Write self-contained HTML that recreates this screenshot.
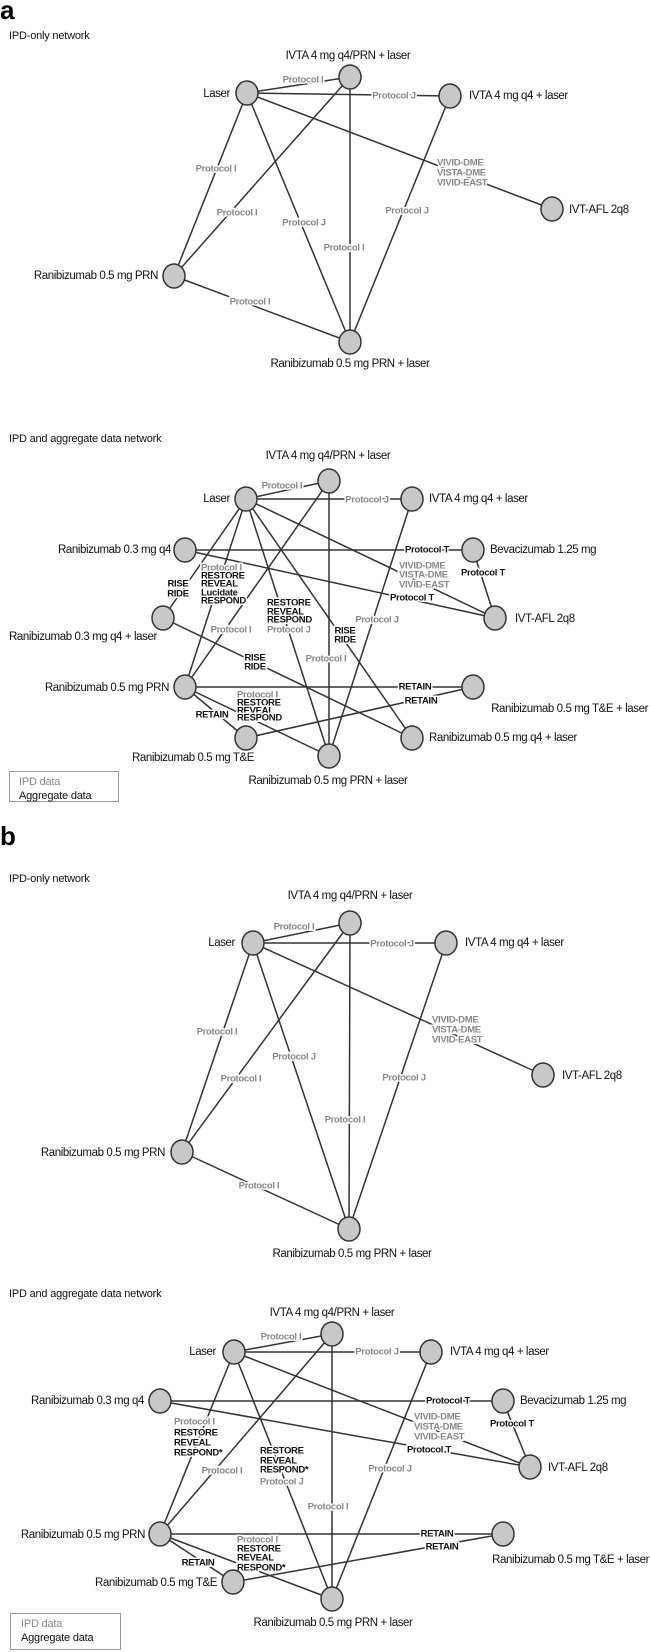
<!DOCTYPE html>
<html><head><meta charset="utf-8"><style>
html,body{margin:0;padding:0;background:#fff;}
svg{display:block;}
text{font-family:"Liberation Sans",sans-serif;dominant-baseline:central;}
.n{font-size:11.5px;fill:#111;letter-spacing:-0.4px;}
.g{font-size:9.5px;fill:#888;font-weight:bold;letter-spacing:-0.3px;paint-order:stroke;stroke:#fff;stroke-width:3px;}
.k{font-size:9.5px;fill:#111;font-weight:bold;letter-spacing:-0.3px;paint-order:stroke;stroke:#fff;stroke-width:3px;}
.t{font-size:11px;fill:#111;letter-spacing:-0.2px;}
line{stroke:#333;stroke-width:1.5;}
ellipse{fill:#c8c8c8;stroke:#333;stroke-width:1.5;}
</style></head><body>
<svg width="650" height="1652" viewBox="0 0 650 1652" xmlns="http://www.w3.org/2000/svg">
<!-- ===== Panel a, IPD only ===== -->
<text x="0" y="10" style="font-size:26px;font-weight:bold;fill:#000">a</text>
<text class="t" x="9" y="36">IPD-only network</text>
<g>
<line x1="247" y1="93" x2="350" y2="77"/>
<line x1="247" y1="93" x2="450" y2="96"/>
<line x1="247" y1="93" x2="552" y2="209"/>
<line x1="247" y1="93" x2="174" y2="276"/>
<line x1="350" y1="77" x2="174" y2="276"/>
<line x1="247" y1="93" x2="350" y2="342"/>
<line x1="350" y1="77" x2="350" y2="342"/>
<line x1="450" y1="96" x2="350" y2="342"/>
<line x1="174" y1="276" x2="350" y2="342"/>
</g>
<text class="g" x="303" y="80" text-anchor="middle">Protocol I</text>
<text class="g" x="394" y="96" text-anchor="middle">Protocol J</text>
<text class="g" x="437" y="163">VIVID-DME</text>
<text class="g" x="437" y="173">VISTA-DME</text>
<text class="g" x="437" y="183">VIVID-EAST</text>
<text class="g" x="216" y="169" text-anchor="middle">Protocol I</text>
<text class="g" x="237" y="213" text-anchor="middle">Protocol I</text>
<text class="g" x="304" y="223" text-anchor="middle">Protocol J</text>
<text class="g" x="344" y="248" text-anchor="middle">Protocol I</text>
<text class="g" x="407" y="211" text-anchor="middle">Protocol J</text>
<text class="g" x="250" y="302" text-anchor="middle">Protocol I</text>
<ellipse cx="247" cy="93" rx="11" ry="12"/>
<ellipse cx="350" cy="77" rx="11" ry="12"/>
<ellipse cx="450" cy="96" rx="11" ry="12"/>
<ellipse cx="552" cy="209" rx="11" ry="12"/>
<ellipse cx="174" cy="276" rx="11" ry="12"/>
<ellipse cx="350" cy="342" rx="11" ry="12"/>
<text class="n" x="348" y="56" text-anchor="middle">IVTA 4 mg q4/PRN + laser</text>
<text class="n" x="230" y="94" text-anchor="end">Laser</text>
<text class="n" x="469" y="96">IVTA 4 mg q4 + laser</text>
<text class="n" x="569" y="210">IVT-AFL 2q8</text>
<text class="n" x="158" y="276" text-anchor="end">Ranibizumab 0.5 mg PRN</text>
<text class="n" x="350" y="364" text-anchor="middle">Ranibizumab 0.5 mg PRN + laser</text>

<!-- ===== Panel a, IPD + aggregate ===== -->
<text class="t" x="9" y="439">IPD and aggregate data network</text>
<g>
<line x1="246" y1="499" x2="329" y2="481"/>
<line x1="246" y1="499" x2="412" y2="499"/>
<line x1="246" y1="499" x2="495" y2="618"/>
<line x1="185" y1="550" x2="473" y2="550"/>
<line x1="473" y1="550" x2="495" y2="618"/>
<line x1="185" y1="550" x2="495" y2="618"/>
<line x1="246" y1="499" x2="163" y2="618"/>
<line x1="246" y1="499" x2="185" y2="687"/>
<line x1="329" y1="481" x2="185" y2="687"/>
<line x1="246" y1="499" x2="329" y2="756"/>
<line x1="246" y1="499" x2="412" y2="738"/>
<line x1="163" y1="618" x2="412" y2="738"/>
<line x1="329" y1="481" x2="329" y2="756"/>
<line x1="412" y1="499" x2="329" y2="756"/>
<line x1="185" y1="687" x2="473" y2="687"/>
<line x1="246" y1="738" x2="473" y2="687"/>
<line x1="185" y1="687" x2="246" y2="738"/>
<line x1="185" y1="687" x2="329" y2="756"/>
</g>
<text class="g" x="282" y="486" text-anchor="middle">Protocol I</text>
<text class="g" x="367" y="500" text-anchor="middle">Protocol J</text>
<text class="g" x="399" y="566">VIVID-DME</text>
<text class="g" x="399" y="575">VISTA-DME</text>
<text class="g" x="399" y="585">VIVID-EAST</text>
<text class="k" x="427" y="550" text-anchor="middle">Protocol T</text>
<text class="k" x="483" y="573" text-anchor="middle">Protocol T</text>
<text class="k" x="412" y="598" text-anchor="middle">Protocol T</text>
<text class="k" x="178" y="584" text-anchor="middle">RISE</text>
<text class="k" x="178" y="594" text-anchor="middle">RIDE</text>
<text class="g" x="201" y="568">Protocol I</text>
<text class="k" x="201" y="576">RESTORE</text>
<text class="k" x="201" y="584">REVEAL</text>
<text class="k" x="201" y="593">Lucidate</text>
<text class="k" x="201" y="601">RESPOND</text>
<text class="g" x="231" y="630" text-anchor="middle">Protocol I</text>
<text class="k" x="267" y="603">RESTORE</text>
<text class="k" x="267" y="612">REVEAL</text>
<text class="k" x="267" y="620">RESPOND</text>
<text class="g" x="267" y="630">Protocol J</text>
<text class="k" x="345" y="631" text-anchor="middle">RISE</text>
<text class="k" x="345" y="640" text-anchor="middle">RIDE</text>
<text class="k" x="255" y="658" text-anchor="middle">RISE</text>
<text class="k" x="255" y="667" text-anchor="middle">RIDE</text>
<text class="g" x="326" y="659" text-anchor="middle">Protocol I</text>
<text class="g" x="377" y="620" text-anchor="middle">Protocol J</text>
<text class="k" x="415" y="687" text-anchor="middle">RETAIN</text>
<text class="k" x="421" y="701" text-anchor="middle">RETAIN</text>
<text class="k" x="212" y="715" text-anchor="middle">RETAIN</text>
<text class="g" x="237" y="695">Protocol I</text>
<text class="k" x="237" y="703">RESTORE</text>
<text class="k" x="237" y="711">REVEAL</text>
<text class="k" x="237" y="718">RESPOND</text>
<ellipse cx="246" cy="499" rx="11" ry="12"/>
<ellipse cx="329" cy="481" rx="11" ry="12"/>
<ellipse cx="412" cy="499" rx="11" ry="12"/>
<ellipse cx="185" cy="550" rx="11" ry="12"/>
<ellipse cx="473" cy="550" rx="11" ry="12"/>
<ellipse cx="495" cy="618" rx="11" ry="12"/>
<ellipse cx="163" cy="618" rx="11" ry="12"/>
<ellipse cx="185" cy="687" rx="11" ry="12"/>
<ellipse cx="473" cy="687" rx="11" ry="12"/>
<ellipse cx="412" cy="738" rx="11" ry="12"/>
<ellipse cx="246" cy="738" rx="11" ry="12"/>
<ellipse cx="329" cy="756" rx="11" ry="12"/>
<text class="n" x="328" y="456" text-anchor="middle">IVTA 4 mg q4/PRN + laser</text>
<text class="n" x="230" y="499" text-anchor="end">Laser</text>
<text class="n" x="429" y="499">IVTA 4 mg q4 + laser</text>
<text class="n" x="171" y="550" text-anchor="end">Ranibizumab 0.3 mg q4</text>
<text class="n" x="490" y="550">Bevacizumab 1.25 mg</text>
<text class="n" x="515" y="619">IVT-AFL 2q8</text>
<text class="n" x="9" y="637">Ranibizumab 0.3 mg q4 + laser</text>
<text class="n" x="169" y="688" text-anchor="end">Ranibizumab 0.5 mg PRN</text>
<text class="n" x="648" y="709" text-anchor="end">Ranibizumab 0.5 mg T&amp;E + laser</text>
<text class="n" x="429" y="738">Ranibizumab 0.5 mg q4 + laser</text>
<text class="n" x="254" y="758" text-anchor="end">Ranibizumab 0.5 mg T&amp;E</text>
<text class="n" x="328" y="781" text-anchor="middle">Ranibizumab 0.5 mg PRN + laser</text>
<rect x="9.5" y="771.5" width="109" height="30" fill="#fff" stroke="#999" stroke-width="1"/>
<text class="t" x="19" y="782" style="fill:#888">IPD data</text>
<text class="t" x="19" y="796">Aggregate data</text>

<!-- ===== Panel b, IPD only ===== -->
<text x="0" y="836" style="font-size:26px;font-weight:bold;fill:#000">b</text>
<text class="t" x="9" y="879">IPD-only network</text>
<g>
<line x1="253" y1="943" x2="350" y2="923"/>
<line x1="253" y1="943" x2="446" y2="943"/>
<line x1="253" y1="943" x2="543" y2="1075"/>
<line x1="253" y1="943" x2="182" y2="1152"/>
<line x1="350" y1="923" x2="182" y2="1152"/>
<line x1="253" y1="943" x2="349" y2="1229"/>
<line x1="350" y1="923" x2="349" y2="1229"/>
<line x1="446" y1="943" x2="349" y2="1229"/>
<line x1="182" y1="1152" x2="349" y2="1229"/>
</g>
<text class="g" x="294" y="927" text-anchor="middle">Protocol I</text>
<text class="g" x="392" y="944" text-anchor="middle">Protocol J</text>
<text class="g" x="432" y="1020">VIVID-DME</text>
<text class="g" x="432" y="1030">VISTA-DME</text>
<text class="g" x="432" y="1040">VIVID-EAST</text>
<text class="g" x="217" y="1032" text-anchor="middle">Protocol I</text>
<text class="g" x="241" y="1079" text-anchor="middle">Protocol I</text>
<text class="g" x="294" y="1057" text-anchor="middle">Protocol J</text>
<text class="g" x="345" y="1120" text-anchor="middle">Protocol I</text>
<text class="g" x="404" y="1078" text-anchor="middle">Protocol J</text>
<text class="g" x="259" y="1186" text-anchor="middle">Protocol I</text>
<ellipse cx="253" cy="943" rx="11" ry="12"/>
<ellipse cx="350" cy="923" rx="11" ry="12"/>
<ellipse cx="446" cy="943" rx="11" ry="12"/>
<ellipse cx="543" cy="1075" rx="11" ry="12"/>
<ellipse cx="182" cy="1152" rx="11" ry="12"/>
<ellipse cx="349" cy="1229" rx="11" ry="12"/>
<text class="n" x="350" y="896" text-anchor="middle">IVTA 4 mg q4/PRN + laser</text>
<text class="n" x="235" y="943" text-anchor="end">Laser</text>
<text class="n" x="465" y="943">IVTA 4 mg q4 + laser</text>
<text class="n" x="562" y="1076">IVT-AFL 2q8</text>
<text class="n" x="165" y="1153" text-anchor="end">Ranibizumab 0.5 mg PRN</text>
<text class="n" x="352" y="1254" text-anchor="middle">Ranibizumab 0.5 mg PRN + laser</text>

<!-- ===== Panel b, IPD + aggregate ===== -->
<text class="t" x="9" y="1294">IPD and aggregate data network</text>
<g>
<line x1="234" y1="1352" x2="332" y2="1334"/>
<line x1="234" y1="1352" x2="431" y2="1352"/>
<line x1="234" y1="1352" x2="530" y2="1467"/>
<line x1="160" y1="1401" x2="503" y2="1401"/>
<line x1="503" y1="1401" x2="530" y2="1467"/>
<line x1="160" y1="1401" x2="530" y2="1467"/>
<line x1="234" y1="1352" x2="160" y2="1534"/>
<line x1="332" y1="1334" x2="160" y2="1534"/>
<line x1="234" y1="1352" x2="332" y2="1599"/>
<line x1="332" y1="1334" x2="332" y2="1599"/>
<line x1="431" y1="1352" x2="332" y2="1599"/>
<line x1="160" y1="1534" x2="503" y2="1534"/>
<line x1="233" y1="1582" x2="503" y2="1534"/>
<line x1="160" y1="1534" x2="233" y2="1582"/>
<line x1="160" y1="1534" x2="332" y2="1599"/>
</g>
<text class="g" x="281" y="1337" text-anchor="middle">Protocol I</text>
<text class="g" x="377" y="1352" text-anchor="middle">Protocol J</text>
<text class="k" x="448" y="1401" text-anchor="middle">Protocol T</text>
<text class="g" x="414" y="1417">VIVID-DME</text>
<text class="g" x="414" y="1427">VISTA-DME</text>
<text class="g" x="414" y="1437">VIVID-EAST</text>
<text class="k" x="512" y="1424" text-anchor="middle">Protocol T</text>
<text class="k" x="429" y="1450" text-anchor="middle">Protocol T</text>
<text class="g" x="174" y="1422">Protocol I</text>
<text class="k" x="174" y="1433">RESTORE</text>
<text class="k" x="174" y="1443">REVEAL</text>
<text class="k" x="174" y="1453">RESPOND*</text>
<text class="g" x="222" y="1471" text-anchor="middle">Protocol I</text>
<text class="k" x="260" y="1451">RESTORE</text>
<text class="k" x="260" y="1461">REVEAL</text>
<text class="k" x="260" y="1470">RESPOND*</text>
<text class="g" x="260" y="1482">Protocol J</text>
<text class="g" x="390" y="1469" text-anchor="middle">Protocol J</text>
<text class="g" x="328" y="1507" text-anchor="middle">Protocol I</text>
<text class="k" x="437" y="1534" text-anchor="middle">RETAIN</text>
<text class="k" x="442" y="1547" text-anchor="middle">RETAIN</text>
<text class="g" x="237" y="1540">Protocol I</text>
<text class="k" x="237" y="1549">RESTORE</text>
<text class="k" x="237" y="1558">REVEAL</text>
<text class="k" x="237" y="1568">RESPOND*</text>
<text class="k" x="198" y="1563" text-anchor="middle">RETAIN</text>
<ellipse cx="234" cy="1352" rx="11" ry="12"/>
<ellipse cx="332" cy="1334" rx="11" ry="12"/>
<ellipse cx="431" cy="1352" rx="11" ry="12"/>
<ellipse cx="160" cy="1401" rx="11" ry="12"/>
<ellipse cx="503" cy="1401" rx="11" ry="12"/>
<ellipse cx="530" cy="1467" rx="11" ry="12"/>
<ellipse cx="160" cy="1534" rx="11" ry="12"/>
<ellipse cx="503" cy="1534" rx="11" ry="12"/>
<ellipse cx="233" cy="1582" rx="11" ry="12"/>
<ellipse cx="332" cy="1599" rx="11" ry="12"/>
<text class="n" x="332" y="1313" text-anchor="middle">IVTA 4 mg q4/PRN + laser</text>
<text class="n" x="216" y="1352" text-anchor="end">Laser</text>
<text class="n" x="450" y="1352">IVTA 4 mg q4 + laser</text>
<text class="n" x="144" y="1401" text-anchor="end">Ranibizumab 0.3 mg q4</text>
<text class="n" x="520" y="1401">Bevacizumab 1.25 mg</text>
<text class="n" x="548" y="1468">IVT-AFL 2q8</text>
<text class="n" x="145" y="1535" text-anchor="end">Ranibizumab 0.5 mg PRN</text>
<text class="n" x="649" y="1560" text-anchor="end">Ranibizumab 0.5 mg T&amp;E + laser</text>
<text class="n" x="217" y="1583" text-anchor="end">Ranibizumab 0.5 mg T&amp;E</text>
<text class="n" x="333" y="1623" text-anchor="middle">Ranibizumab 0.5 mg PRN + laser</text>
<rect x="10.5" y="1613.5" width="110" height="36" fill="#fff" stroke="#999" stroke-width="1"/>
<text class="t" x="21" y="1624" style="fill:#888">IPD data</text>
<text class="t" x="21" y="1638">Aggregate data</text>
</svg>
</body></html>
